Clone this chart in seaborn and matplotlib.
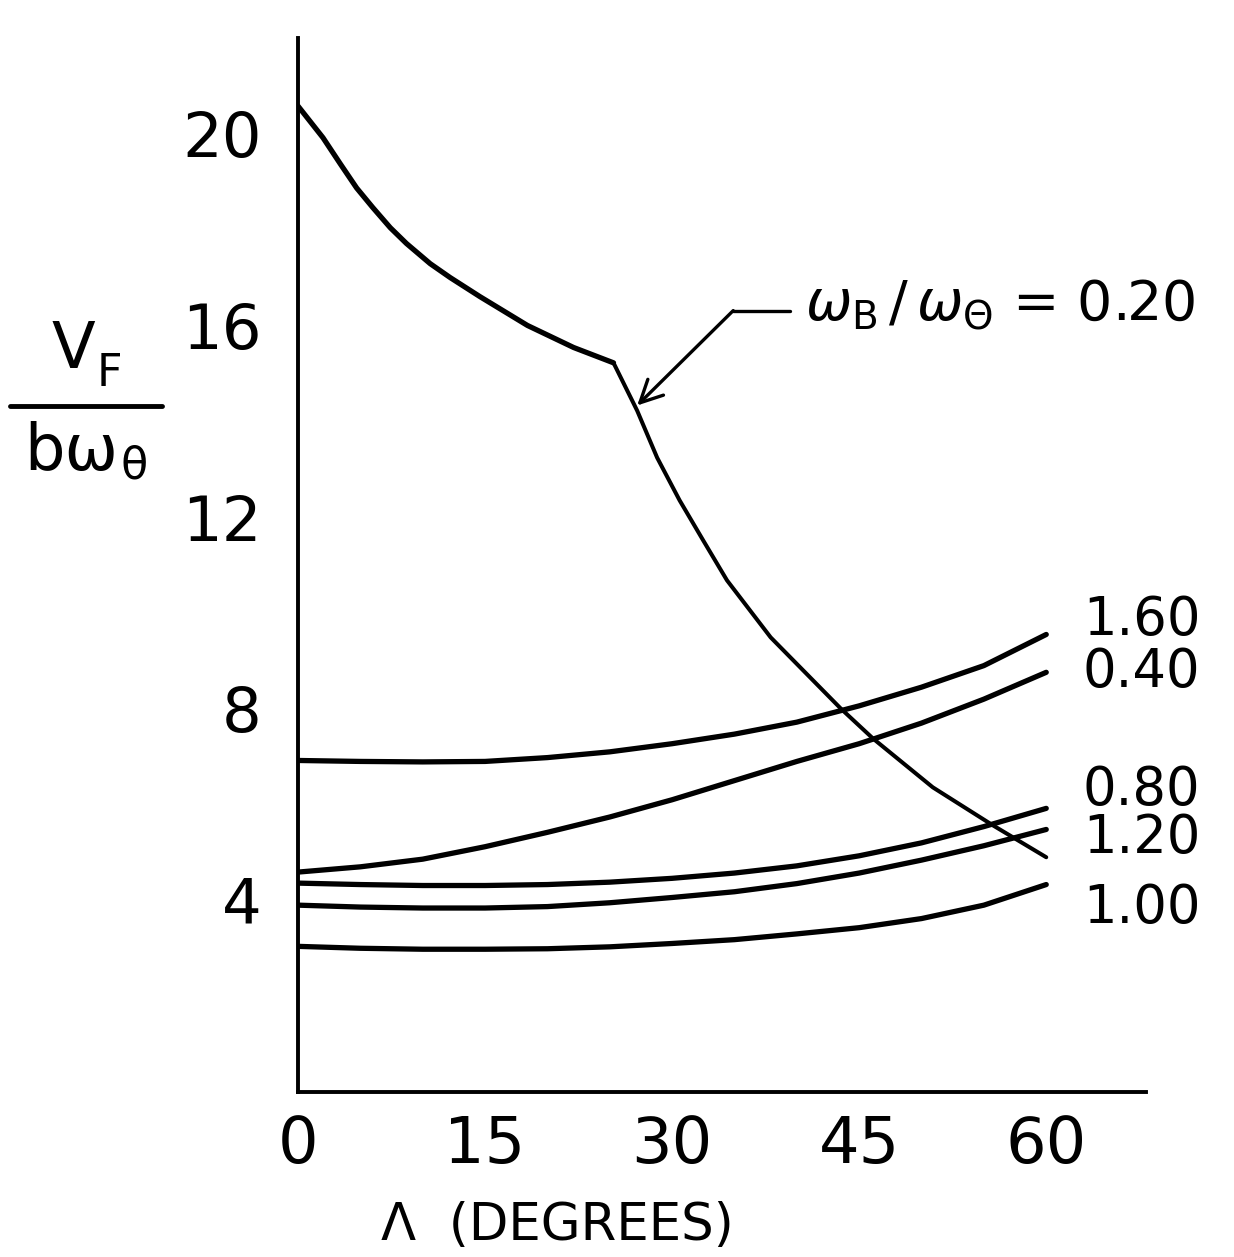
import matplotlib
matplotlib.use("Agg")
import matplotlib.pyplot as plt
import seaborn as sns
from matplotlib.lines import Line2D

# ---------------- data ----------------
angle_grid = [0, 5, 10, 15, 20, 25, 30, 35, 40, 45, 50, 55, 60]
v_160 = [6.92, 6.90, 6.89, 6.90, 6.98, 7.10, 7.27, 7.47, 7.72, 8.06, 8.45, 8.90, 9.55]
v_040 = [4.59, 4.70, 4.86, 5.12, 5.42, 5.74, 6.10, 6.50, 6.90, 7.27, 7.70, 8.20, 8.76]
v_080 = [4.36, 4.33, 4.31, 4.31, 4.33, 4.38, 4.46, 4.57, 4.72, 4.93, 5.20, 5.54, 5.92]
v_120 = [3.90, 3.86, 3.84, 3.84, 3.87, 3.95, 4.06, 4.18, 4.35, 4.57, 4.84, 5.14, 5.48]
v_100 = [3.04, 3.00, 2.98, 2.98, 2.99, 3.03, 3.10, 3.18, 3.30, 3.43, 3.62, 3.90, 4.33]

angle_020 = [0, 2.0, 3.4, 4.7, 6.0, 7.4, 8.7, 10.6, 12.2, 14.6, 18.4, 22.1,
             25.3, 27.2, 28.8, 30.6, 32.5, 34.4, 37.9, 43.5, 46.1, 50.9, 55.7, 60]
v_020 = [20.58, 19.92, 19.37, 18.87, 18.46, 18.04, 17.71, 17.29, 17.0, 16.6,
         16.0, 15.54, 15.22, 14.22, 13.24, 12.35, 11.51, 10.68, 9.49, 8.01,
         7.38, 6.36, 5.57, 4.90]
kink_index = 12

curve_labels = ["1.60", "0.40", "0.80", "1.20", "1.00"]
x_ticks = [0, 15, 30, 45, 60]
y_ticks = [4, 8, 12, 16, 20]

# ---------------- figure ----------------
sns.set_style("white")
plt.rcParams["font.family"] = ["DejaVu Sans"]
plt.rcParams["mathtext.fontset"] = "dejavusans"
plt.rcParams["text.color"] = "black"
plt.rcParams["xtick.color"] = "black"
plt.rcParams["ytick.color"] = "black"

W, H = 1234, 1257
fig = plt.figure(figsize=(W / 100, H / 100), dpi=100)


def px(x, y):
    return x / W, 1 - y / H


ax = fig.add_axes([298 / W, 1 - 1092 / H, 848 / W, 1054 / H])
ax.set_xlim(0, 68)
ax.set_ylim(0, 22)

lw_main = 3.8
for vals in [v_160, v_040, v_080, v_120, v_100]:
    sns.lineplot(x=angle_grid, y=vals, ax=ax, color="black", lw=lw_main,
                 solid_capstyle="round", solid_joinstyle="round")
sns.lineplot(x=angle_020[:kink_index + 1], y=v_020[:kink_index + 1], ax=ax,
             color="black", lw=3.8, solid_capstyle="round", solid_joinstyle="round")
sns.lineplot(x=angle_020[kink_index:], y=v_020[kink_index:], ax=ax,
             color="black", lw=2.9, solid_capstyle="round", solid_joinstyle="round")

for s in ["top", "right"]:
    ax.spines[s].set_visible(False)
for s in ["left", "bottom"]:
    ax.spines[s].set_linewidth(2.8)
    ax.spines[s].set_color("black")

ax.set_xticks(x_ticks)
ax.set_xticklabels([str(t) for t in x_ticks])
ax.set_yticks(y_ticks)
ax.set_yticklabels([str(t) for t in y_ticks])
ax.tick_params(axis="both", direction="in", width=2.4, colors="black")
ax.tick_params(axis="y", length=18, pad=26, labelsize=45)
ax.tick_params(axis="x", length=18, pad=16, labelsize=46)
ax.set_xlabel("")
ax.set_ylabel("")

# x-axis title
fig.text(*px(557, 1226), "Λ  (DEGREES)", ha="center", va="center", fontsize=37)

# y-axis title as a fraction
fig.text(*px(73, 350), "V", ha="center", va="center", fontsize=46)
fig.text(*px(109, 373), "F", ha="center", va="center", fontsize=32)
fig.add_artist(Line2D([10 / W, 162 / W], [1 - 406 / H, 1 - 406 / H],
                      transform=fig.transFigure, color="black", lw=3.5,
                      solid_capstyle="round"))
fig.text(*px(24, 470), "bω", ha="left", va="baseline", fontsize=46)
fig.text(*px(134, 466), "θ", ha="center", va="center", fontsize=32)

# curve labels
label_y = [620, 672, 790, 838, 908]
for lab, yy in zip(curve_labels, label_y):
    fig.text(*px(1083, yy), lab, ha="left", va="center", fontsize=38)

# annotation for the 0.20 curve
tip = (27.2, 14.33)
corner = (34.9, 16.31)
line_end = (39.45, 16.31)
ax.annotate("", xy=tip, xytext=corner,
            arrowprops=dict(arrowstyle="->", color="black", lw=2.4,
                            mutation_scale=40, shrinkA=0, shrinkB=0))
ax.add_line(Line2D([corner[0], line_end[0]], [corner[1], line_end[1]],
                   color="black", lw=2.4))
fig.text(*px(805, 305), r"$\omega_{\mathrm{B}}\,/\,\omega_{\Theta}$ = 0.20",
         ha="left", va="center", fontsize=40)

fig.savefig("out.png", dpi=100)
